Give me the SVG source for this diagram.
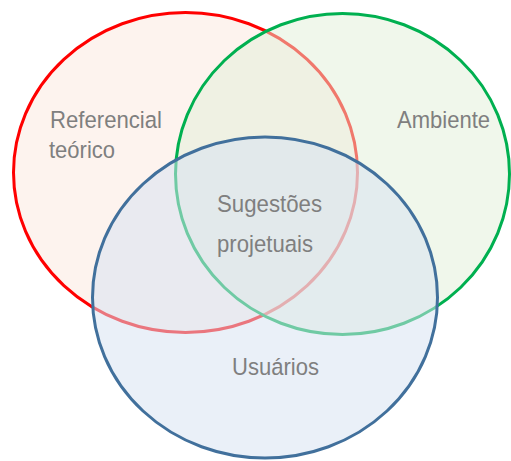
<svg xmlns="http://www.w3.org/2000/svg" width="511" height="461" viewBox="0 0 511 461">
<style>
.lbl{font-family:"Liberation Sans",Arial,sans-serif;font-size:24.5px;fill:#7f7f7f}
</style>
<rect width="511" height="461" fill="#ffffff"/>
<g id="referencial">
<ellipse cx="185.5" cy="172.5" rx="172" ry="160" fill="#fdf3ee" stroke="#ff0000" stroke-width="3"/>
</g>
<g id="ambiente">
<ellipse cx="342.5" cy="174" rx="167" ry="160.5" fill="rgb(225,240,215)" fill-opacity="0.5" stroke="#00b050" stroke-width="3"/>
</g>
<g id="usuarios">
<ellipse cx="265" cy="297.5" rx="172.5" ry="160.5" fill="rgb(214,226,242)" fill-opacity="0.52" stroke="#41709c" stroke-width="3"/>
</g>
<g id="labels">
<text class="lbl" x="50" y="128" textLength="112" lengthAdjust="spacingAndGlyphs">Referencial</text>
<text class="lbl" x="49" y="158" textLength="66" lengthAdjust="spacingAndGlyphs">teórico</text>
<text class="lbl" x="397" y="128" textLength="93" lengthAdjust="spacingAndGlyphs">Ambiente</text>
<text class="lbl" x="217" y="212" textLength="105" lengthAdjust="spacingAndGlyphs">Sugestões</text>
<text class="lbl" x="217" y="252" textLength="96" lengthAdjust="spacingAndGlyphs">projetuais</text>
<text class="lbl" x="232" y="375" textLength="87" lengthAdjust="spacingAndGlyphs">Usuários</text>
</g>
</svg>
